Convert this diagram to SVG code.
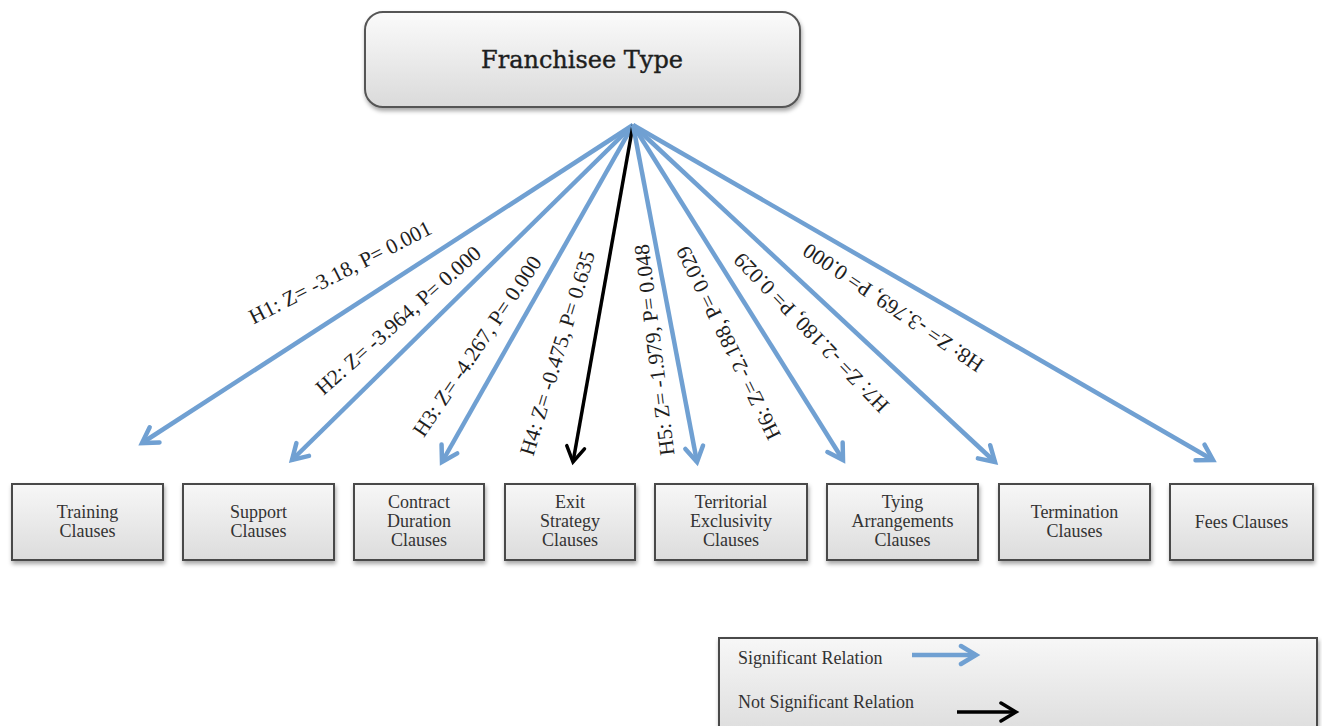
<svg xmlns="http://www.w3.org/2000/svg" width="1322" height="726" viewBox="0 0 1322 726">
  <style>
    .box { stroke: #4a4a4a; stroke-width: 2; fill: url(#boxFill); filter: url(#shadow); }
    .top { stroke: #555; stroke-width: 2; fill: url(#topFill); filter: url(#shadow); }
    .lbl { font-family: "Liberation Serif", "Times New Roman", serif; font-size: 18px; fill: #333; text-anchor: middle; }
    .title { font-family: "DejaVu Serif", "Liberation Serif", serif; font-size: 24px; fill: #1e1e1e; stroke: #1e1e1e; stroke-width: 0.4; text-anchor: middle; }
    .rel { font-family: "Liberation Serif", "Times New Roman", serif; font-size: 21.5px; fill: #1e1e1e; text-anchor: middle; }
    .leg { font-family: "Liberation Serif", "Times New Roman", serif; font-size: 18px; fill: #333; }
    .sig { stroke: #70a0d2; stroke-width: 4.5; fill: none; marker-end: url(#headBlue); }
    .ns { stroke: #000; stroke-width: 3.5; fill: none; marker-end: url(#headBlack); }
  </style>
  <defs>
    <linearGradient id="boxFill" x1="0" y1="0" x2="0" y2="1">
      <stop offset="0" stop-color="#f7f7f7"/>
      <stop offset="1" stop-color="#dcdcdc"/>
    </linearGradient>
    <linearGradient id="topFill" x1="0" y1="0" x2="0" y2="1">
      <stop offset="0" stop-color="#fbfbfb"/>
      <stop offset="1" stop-color="#dadada"/>
    </linearGradient>
    <filter id="shadow" x="-10%" y="-10%" width="130%" height="140%">
      <feDropShadow dx="1" dy="3" stdDeviation="2" flood-color="#000" flood-opacity="0.35"/>
    </filter>
    <marker id="headBlue" viewBox="0 0 24 24" refX="19" refY="12" markerWidth="24" markerHeight="24" markerUnits="userSpaceOnUse" orient="auto">
      <path d="M4,3 L19,12 L4,21" fill="none" stroke="#70a0d2" stroke-width="4.5" stroke-linecap="round"/>
    </marker>
    <marker id="headBlack" viewBox="0 0 24 24" refX="19" refY="12" markerWidth="24" markerHeight="24" markerUnits="userSpaceOnUse" orient="auto">
      <path d="M4,3 L19,12 L4,21" fill="none" stroke="#000" stroke-width="3.5" stroke-linecap="round"/>
    </marker>
  </defs>

  <rect width="1322" height="726" fill="#fff"/>

  <!-- source node -->
  <g id="franchisee-type">
    <rect class="top" x="365" y="12" width="435" height="95" rx="18"/>
    <text class="title" x="582" y="68">Franchisee Type</text>
  </g>

  <!-- relations from the source to each clause type -->
  <g id="connectors">
    <line class="sig" x1="633" y1="125" x2="142" y2="443"/>
    <line class="sig" x1="633" y1="125" x2="292" y2="460"/>
    <line class="sig" x1="633" y1="125" x2="442" y2="462"/>
    <line class="ns" x1="633" y1="125" x2="573" y2="462"/>
    <line class="sig" x1="633" y1="125" x2="697" y2="462"/>
    <line class="sig" x1="633" y1="125" x2="843" y2="460"/>
    <line class="sig" x1="633" y1="125" x2="995" y2="462"/>
    <line class="sig" x1="633" y1="125" x2="1213" y2="460"/>

    <text class="rel" transform="translate(340,272) rotate(-27)" dy="0.35em">H1: Z= -3.18, P= 0.001</text>
    <text class="rel" transform="translate(398,320) rotate(-41.5)" dy="0.35em">H2: Z= -3.964, P= 0.000</text>
    <text class="rel" transform="translate(477,346) rotate(-56)" dy="0.35em">H3: Z= -4.267, P= 0.000</text>
    <text class="rel" transform="translate(557,353) rotate(-73)" dy="0.35em">H4: Z= -0.475, P= 0.635</text>
    <text class="rel" transform="translate(654,350) rotate(-97)" dy="0.35em">H5: Z= -1.979, P= 0.048</text>
    <text class="rel" transform="translate(728,343) rotate(-116)" dy="0.35em">H6: Z= -2.188, P= 0.029</text>
    <text class="rel" transform="translate(811,333) rotate(-134)" dy="0.35em">H7: Z= -2.180, P= 0.029</text>
    <text class="rel" transform="translate(893,308) rotate(-146)" dy="0.35em">H8: Z= -3.769, P= 0.000</text>
  </g>

  <!-- clause nodes -->
  <g id="training">
    <rect class="box" x="12" y="484" width="151" height="76"/>
    <text class="lbl" x="87.5" y="518">Training</text>
    <text class="lbl" x="87.5" y="537">Clauses</text>
  </g>
  <g id="support">
    <rect class="box" x="183" y="484" width="151" height="76"/>
    <text class="lbl" x="258.5" y="518">Support</text>
    <text class="lbl" x="258.5" y="537">Clauses</text>
  </g>
  <g id="contract-duration">
    <rect class="box" x="354" y="484" width="130" height="76"/>
    <text class="lbl" x="419" y="508">Contract</text>
    <text class="lbl" x="419" y="527">Duration</text>
    <text class="lbl" x="419" y="546">Clauses</text>
  </g>
  <g id="exit-strategy">
    <rect class="box" x="505" y="484" width="130" height="76"/>
    <text class="lbl" x="570" y="508">Exit</text>
    <text class="lbl" x="570" y="527">Strategy</text>
    <text class="lbl" x="570" y="546">Clauses</text>
  </g>
  <g id="territorial-exclusivity">
    <rect class="box" x="655" y="484" width="152" height="76"/>
    <text class="lbl" x="731" y="508">Territorial</text>
    <text class="lbl" x="731" y="527">Exclusivity</text>
    <text class="lbl" x="731" y="546">Clauses</text>
  </g>
  <g id="tying-arrangements">
    <rect class="box" x="827" y="484" width="151" height="76"/>
    <text class="lbl" x="902.5" y="508">Tying</text>
    <text class="lbl" x="902.5" y="527">Arrangements</text>
    <text class="lbl" x="902.5" y="546">Clauses</text>
  </g>
  <g id="termination">
    <rect class="box" x="999" y="484" width="151" height="76"/>
    <text class="lbl" x="1074.5" y="518">Termination</text>
    <text class="lbl" x="1074.5" y="537">Clauses</text>
  </g>
  <g id="fees">
    <rect class="box" x="1170" y="484" width="143" height="76"/>
    <text class="lbl" x="1241.5" y="528">Fees Clauses</text>
  </g>

  <!-- key -->
  <g id="legend">
    <rect class="box" x="719" y="638" width="598" height="100"/>
    <text class="leg" x="738" y="664">Significant Relation</text>
    <line class="sig" x1="912" y1="655" x2="976" y2="655"/>
    <text class="leg" x="738" y="708">Not Significant Relation</text>
    <line class="ns" x1="957" y1="712" x2="1016" y2="712"/>
  </g>
</svg>
